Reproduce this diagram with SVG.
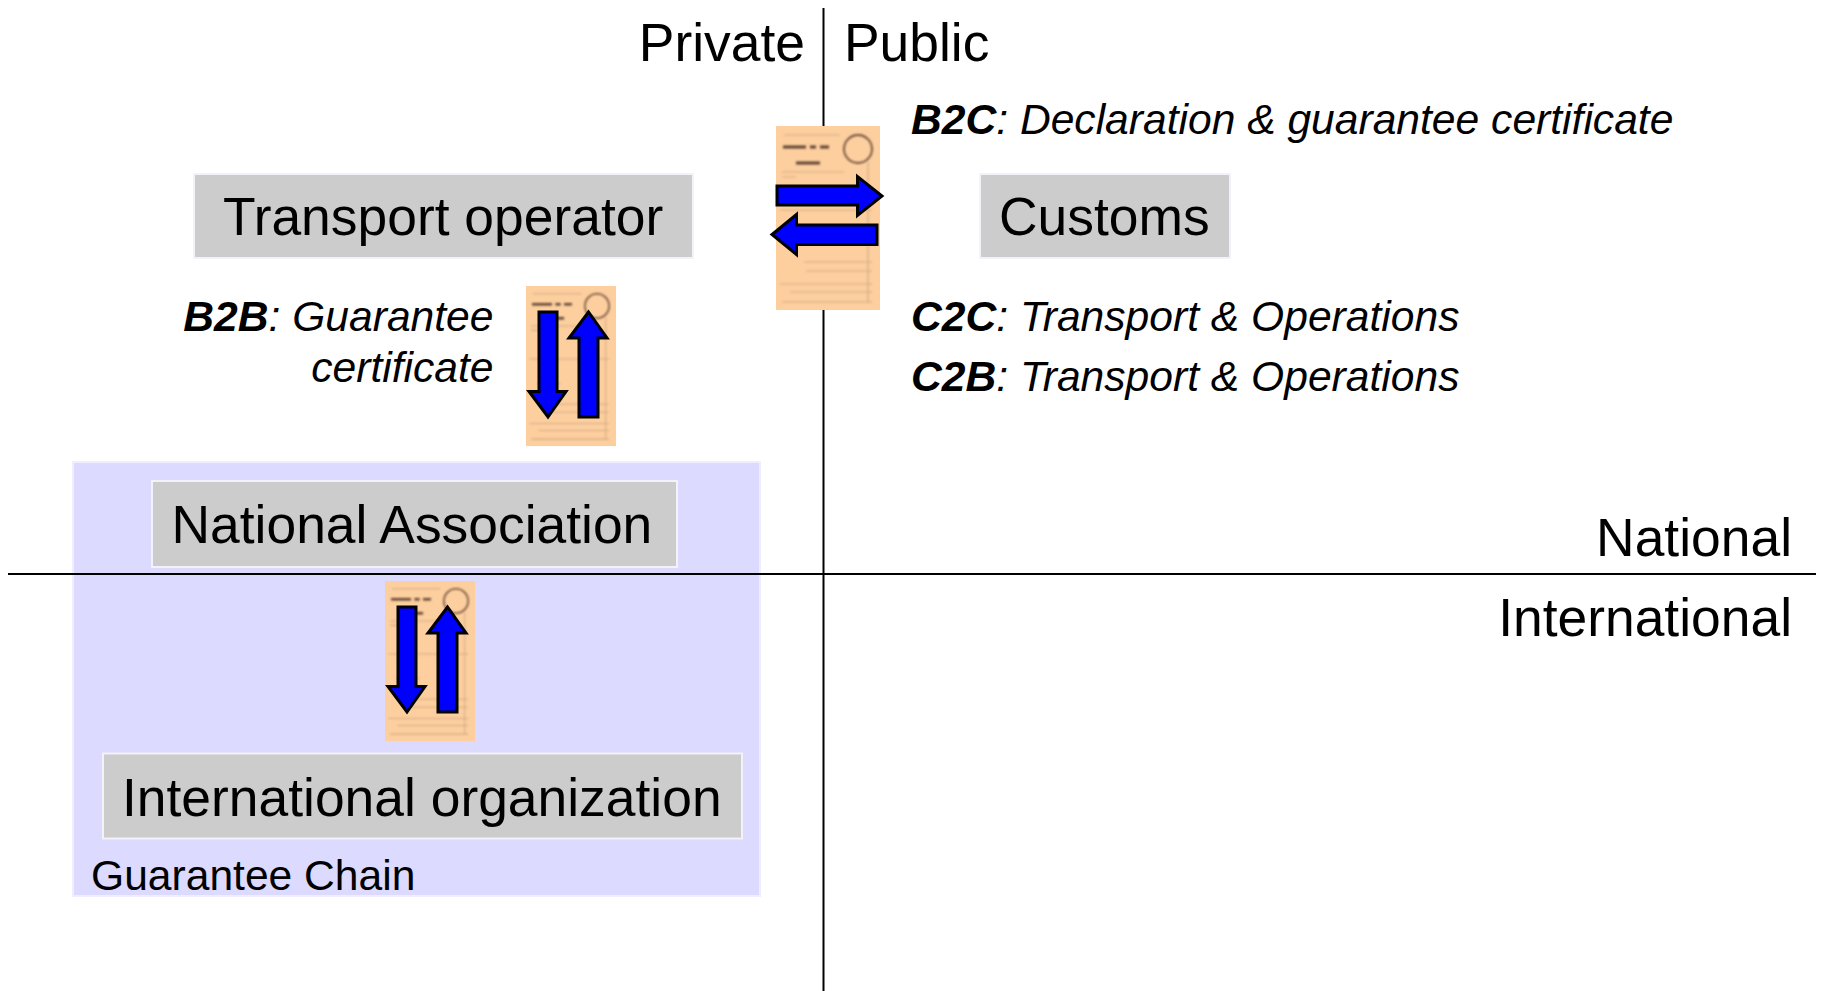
<svg xmlns="http://www.w3.org/2000/svg" width="1822" height="991" viewBox="0 0 1822 991">
<style>
text{font-family:"Liberation Sans",Arial,sans-serif;fill:#000}
.big{font-size:53.4px}
.lab{font-size:42.6px;font-style:italic}
.plain{font-size:42.6px}
.b{font-weight:bold}
.box{fill:#cccccc;stroke:#f2f2f8;stroke-width:2}
.arrow{fill:#0000ff;stroke:#000;stroke-width:3;stroke-linejoin:miter}
.axis{stroke:#000;stroke-width:2;fill:none}
.faint{stroke:#d3aa84;stroke-width:1.2;fill:none}
.dark{stroke:#5e4332;stroke-width:3;fill:none}
</style>
<defs>
<filter id="soft" x="-5%" y="-5%" width="110%" height="110%"><feGaussianBlur stdDeviation="1.1"/></filter>
<g id="doc">
<rect width="104" height="184" fill="#fdcf9f"/>
<g filter="url(#soft)">
<circle cx="82" cy="23" r="14" fill="none" stroke="#6e4e3a" stroke-width="1.8"/>
<path class="faint" d="M8 9H64M6 46H68M6 51H20M4 84H96M12 112H40M28 136H96M30 145H96M4 158H96M14 166H96M6 176H96M92 36V176"/>
<path class="dark" d="M7 21H30M34 21H40M44 21H53M20 37H44"/>
</g>
</g>
</defs>
<g id="guarantee-chain">
<rect x="73" y="462" width="687" height="434" fill="#dcdaff" stroke="#eeeeff" stroke-width="2"/>
<text class="plain" x="91" y="890">Guarantee Chain</text>
</g>
<g id="axes">
<path class="axis" d="M823.5 8V991"/>
<path class="axis" d="M8 574H1816"/>
</g>
<g id="doc-customs"><use href="#doc" x="776" y="126"/></g>
<g id="doc-b2b"><use href="#doc" transform="translate(526 286) scale(.866 .87)"/></g>
<g id="doc-chain"><use href="#doc" transform="translate(385 581) scale(.866 .87)"/></g>
<g id="connectors">
<path class="arrow" d="M777 186H857.500V176.500L882 196L857.500 215.500V205H777Z"/>
<path class="arrow" d="M877 225H796.500V214.500L772 234.500L796.500 254.500V244.500H877Z"/>
<path class="arrow" d="M539 312H557V391.500H566L548 417L529 391.500H539Z"/>
<path class="arrow" d="M579 417H598V338H607L588.500 312L569 338H579Z"/>
<path class="arrow" d="M398 607H416V686.500H425L407 712L388 686.500H398Z"/>
<path class="arrow" d="M438 712H457V633H466L447.500 607L428 633H438Z"/>
</g>
<g id="axis-labels">
<text class="big" x="805" y="61" text-anchor="end">Private</text>
<text class="big" x="844" y="61">Public</text>
<text class="big" x="1792" y="556" text-anchor="end">National</text>
<text class="big" x="1792" y="636" text-anchor="end">International</text>
</g>
<g id="transport-operator"><rect class="box" x="194" y="174" width="499" height="84"/><text class="big" x="223" y="235">Transport operator</text></g>
<g id="customs"><rect class="box" x="980" y="174" width="250" height="84"/><text class="big" x="999" y="235">Customs</text></g>
<g id="national-association"><rect class="box" x="152" y="481" width="525" height="86"/><text class="big" x="171.500" y="543">National Association</text></g>
<g id="international-organization"><rect class="box" x="103" y="753.500" width="639" height="85"/><text class="big" x="122" y="815.500">International organization</text></g>
<g id="labels">
<text class="lab" x="911" y="134"><tspan class="b">B2C</tspan>: Declaration &amp; guarantee certificate</text>
<text class="lab" x="911" y="331"><tspan class="b">C2C</tspan>: Transport &amp; Operations</text>
<text class="lab" x="911" y="391"><tspan class="b">C2B</tspan>: Transport &amp; Operations</text>
<text class="lab" x="493.500" y="331" text-anchor="end"><tspan class="b">B2B</tspan>: Guarantee</text>
<text class="lab" x="493.500" y="382" text-anchor="end">certificate</text>
</g>
</svg>
